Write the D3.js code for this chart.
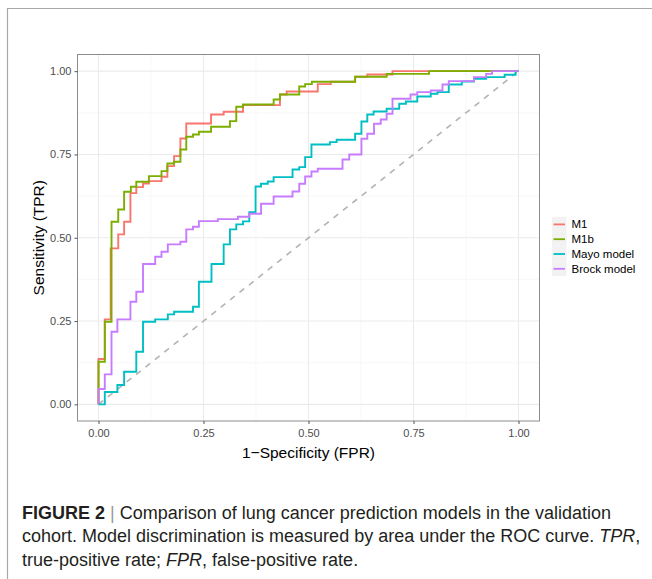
<!DOCTYPE html>
<html>
<head>
<meta charset="utf-8">
<script src="https://cdn.jsdelivr.net/npm/d3@7"></script>
<style>
  body { margin: 0; background: #fff; }
  svg { display: block; font-family: "Liberation Sans", Arial, Helvetica, sans-serif; }
  .grid-major line { stroke: #ebebeb; stroke-width: 1.1; }
  .grid-minor line { stroke: #f3f3f3; stroke-width: 0.6; }
  .axis path { display: none; }
  .axis line { stroke: #555; }
  .axis text { fill: #4d4d4d; font-size: 11px; }
  .caption { fill: #231f20; font-size: 18px; }
</style>
</head>
<body>
<svg id="chart" width="652" height="579"></svg>
<script>
(function() {
  // ROC step points: [fpr, tpr] after each rise
  const m1 = [
    [0, 0], [0, 0.136], [0.015, 0.255], [0.029, 0.468], [0.047, 0.510], [0.061, 0.548],
    [0.076, 0.634], [0.090, 0.652], [0.106, 0.663], [0.120, 0.670], [0.150, 0.683],
    [0.164, 0.715], [0.180, 0.745], [0.195, 0.798], [0.209, 0.843], [0.268, 0.870],
    [0.298, 0.878], [0.344, 0.898], [0.432, 0.930], [0.448, 0.939], [0.522, 0.961],
    [0.553, 0.968], [0.611, 0.983], [0.640, 0.990], [0.700, 1.0], [1, 1]
  ];
  const m1b = [
    [0, 0], [0, 0.128], [0.015, 0.248], [0.031, 0.548], [0.047, 0.585], [0.061, 0.638],
    [0.077, 0.653], [0.090, 0.668], [0.120, 0.685], [0.150, 0.700], [0.164, 0.723],
    [0.180, 0.728], [0.195, 0.765], [0.209, 0.803], [0.225, 0.810], [0.239, 0.818],
    [0.268, 0.833], [0.313, 0.850], [0.328, 0.893], [0.344, 0.900], [0.417, 0.915],
    [0.432, 0.930], [0.478, 0.954], [0.492, 0.961], [0.508, 0.968], [0.611, 0.983],
    [0.686, 0.992], [0.787, 1.0], [1, 1]
  ];
  const mayo = [
    [0, 0], [0.015, 0.037], [0.045, 0.058], [0.061, 0.098], [0.090, 0.158], [0.106, 0.248],
    [0.135, 0.255], [0.165, 0.270], [0.180, 0.278], [0.225, 0.293], [0.239, 0.368],
    [0.269, 0.421], [0.298, 0.480], [0.313, 0.525], [0.328, 0.540], [0.344, 0.549],
    [0.359, 0.577], [0.374, 0.654], [0.387, 0.662], [0.403, 0.669], [0.417, 0.682],
    [0.462, 0.705], [0.478, 0.712], [0.492, 0.742], [0.507, 0.780], [0.551, 0.787],
    [0.567, 0.794], [0.611, 0.812], [0.626, 0.849], [0.640, 0.870], [0.655, 0.879],
    [0.686, 0.887], [0.716, 0.902], [0.732, 0.909], [0.759, 0.924], [0.791, 0.932],
    [0.807, 0.937], [0.834, 0.960], [0.865, 0.969], [0.894, 0.977], [0.923, 0.982],
    [0.967, 0.989], [0.993, 1.0], [1, 1]
  ];
  const brock = [
    [0, 0], [0, 0.046], [0.015, 0.090], [0.031, 0.218], [0.045, 0.255], [0.076, 0.308],
    [0.090, 0.338], [0.106, 0.421], [0.135, 0.443], [0.150, 0.458], [0.165, 0.480],
    [0.195, 0.488], [0.209, 0.525], [0.225, 0.533], [0.239, 0.550], [0.284, 0.556],
    [0.332, 0.563], [0.359, 0.572], [0.387, 0.602], [0.417, 0.624], [0.462, 0.639],
    [0.478, 0.662], [0.492, 0.684], [0.507, 0.699], [0.522, 0.707], [0.581, 0.735],
    [0.597, 0.750], [0.626, 0.797], [0.640, 0.812], [0.656, 0.842], [0.672, 0.855],
    [0.686, 0.872], [0.700, 0.917], [0.743, 0.930], [0.759, 0.937], [0.791, 0.942],
    [0.819, 0.960], [0.834, 0.970], [0.894, 0.982], [0.923, 0.992], [0.937, 1.0], [1, 1]
  ];
  const modelNames = ['M1', 'M1b', 'Mayo model', 'Brock model'];
  const modelColors = ['#F8766D', '#7CAE00', '#00BFC4', '#C77CFF'];
  const majorTicks = [0, 0.25, 0.5, 0.75, 1];
  const minorTicks = [0.125, 0.375, 0.625, 0.875];
  const captionLines = [
    [['FIGURE 2', 'bold'], [' | ', 'bar'], ['Comparison of lung cancer prediction models in the validation', '']],
    [['cohort. Model discrimination is measured by area under the ROC curve. ', ''], ['TPR', 'italic'], [',', '']],
    [['true-positive rate; ', ''], ['FPR', 'italic'], [', false-positive rate.', '']]
  ];

  const series = [m1, m1b, mayo, brock];
  const svg = d3.select('#chart');
  const panel = {'left': 77.5, 'right': 539.5, 'top': 54.5, 'bottom': 421};

  // outer frame of the figure
  svg.append('path')
    .attr('d', 'M7.5,579V8.5H652')
    .attr('fill', 'none')
    .attr('stroke', '#a8a8a8')
    .attr('stroke-width', 1.2);

  let fprToX = d3.scaleLinear().domain([-0.05, 1.05]).range([panel.left, panel.right]);
  let tprToY = d3.scaleLinear().domain([-0.05, 1.05]).range([panel.bottom, panel.top]);

  svg.append('rect')
    .attr('x', panel.left).attr('y', panel.top)
    .attr('width', panel.right - panel.left)
    .attr('height', panel.bottom - panel.top)
    .attr('fill', '#fff');

  let gridMinor = svg.append('g').attr('class', 'grid-minor');
  let gridMajor = svg.append('g').attr('class', 'grid-major');
  [[gridMinor, minorTicks], [gridMajor, majorTicks]].forEach(([g, ticks]) => {
    g.selectAll('line.v').data(ticks).enter().append('line').attr('class', 'v')
      .attr('x1', d => fprToX(d)).attr('x2', d => fprToX(d))
      .attr('y1', panel.top).attr('y2', panel.bottom);
    g.selectAll('line.h').data(ticks).enter().append('line').attr('class', 'h')
      .attr('y1', d => tprToY(d)).attr('y2', d => tprToY(d))
      .attr('x1', panel.left).attr('x2', panel.right);
  });

  // chance line
  svg.append('line')
    .attr('x1', fprToX(0)).attr('y1', tprToY(0))
    .attr('x2', fprToX(1)).attr('y2', tprToY(1))
    .attr('stroke', '#b3b3b3')
    .attr('stroke-width', 1.6)
    .attr('stroke-dasharray', '6,6');

  let line = d3.line()
    .curve(d3.curveStepAfter)
    .x(d => fprToX(d[0]))
    .y(d => tprToY(d[1]));

  svg.append('g').selectAll('path')
    .data(series)
    .enter()
    .append('path')
    .attr('d', d => line(d))
    .attr('fill', 'none')
    .attr('stroke', (d, i) => modelColors[i])
    .attr('stroke-width', 1.9);

  svg.append('rect')
    .attr('x', panel.left).attr('y', panel.top)
    .attr('width', panel.right - panel.left)
    .attr('height', panel.bottom - panel.top)
    .attr('fill', 'none')
    .attr('stroke', '#8c8c8c')
    .attr('stroke-width', 1);

  let xAxis = d3.axisBottom(fprToX).tickValues(majorTicks).tickFormat(d3.format('.2f'))
    .tickSize(3).tickPadding(5);
  let yAxis = d3.axisLeft(tprToY).tickValues(majorTicks).tickFormat(d3.format('.2f'))
    .tickSize(3).tickPadding(3);
  svg.append('g').attr('class', 'axis')
    .attr('transform', 'translate(0, ' + panel.bottom + ')')
    .call(xAxis);
  svg.append('g').attr('class', 'axis')
    .attr('transform', 'translate(' + panel.left + ', 0)')
    .call(yAxis);

  svg.append('text')
    .attr('x', (panel.left + panel.right) / 2)
    .attr('y', 457.5)
    .attr('text-anchor', 'middle')
    .attr('font-size', 15.5)
    .text('1\u2212Specificity (FPR)');
  svg.append('text')
    .attr('transform', 'translate(43.5, ' + (panel.top + panel.bottom) / 2 + ') rotate(-90)')
    .attr('text-anchor', 'middle')
    .attr('font-size', 15.5)
    .text('Sensitivity (TPR)');

  // legend
  let legend = svg.append('g').attr('transform', 'translate(552, 217)');
  let keyH = 14.8;
  let item = legend.selectAll('g')
    .data(modelNames)
    .enter()
    .append('g')
    .attr('transform', (d, i) => 'translate(0, ' + i * keyH + ')');
  item.append('rect')
    .attr('width', 14.5).attr('height', keyH)
    .attr('fill', '#f2f2f2');
  item.append('line')
    .attr('x1', 1.5).attr('x2', 13)
    .attr('y1', keyH / 2).attr('y2', keyH / 2)
    .attr('stroke', (d, i) => modelColors[i])
    .attr('stroke-width', 1.8);
  item.append('text')
    .attr('x', 19.5)
    .attr('y', keyH / 2)
    .attr('dy', '0.35em')
    .attr('font-size', 11.5)
    .text(d => d);

  // caption
  let caption = svg.append('g');
  captionLines.forEach((parts, i) => {
    let t = caption.append('text')
      .attr('class', 'caption')
      .attr('x', 22)
      .attr('y', 518.5 + i * 23.5);
    parts.forEach(([s, style]) => {
      let span = t.append('tspan').text(s);
      if (style === 'bold') span.attr('font-weight', 'bold');
      if (style === 'italic') span.attr('font-style', 'italic');
      if (style === 'bar') span.attr('fill', '#999').attr('font-weight', 'lighter');
    });
  });
})();
</script>
</body>
</html>
